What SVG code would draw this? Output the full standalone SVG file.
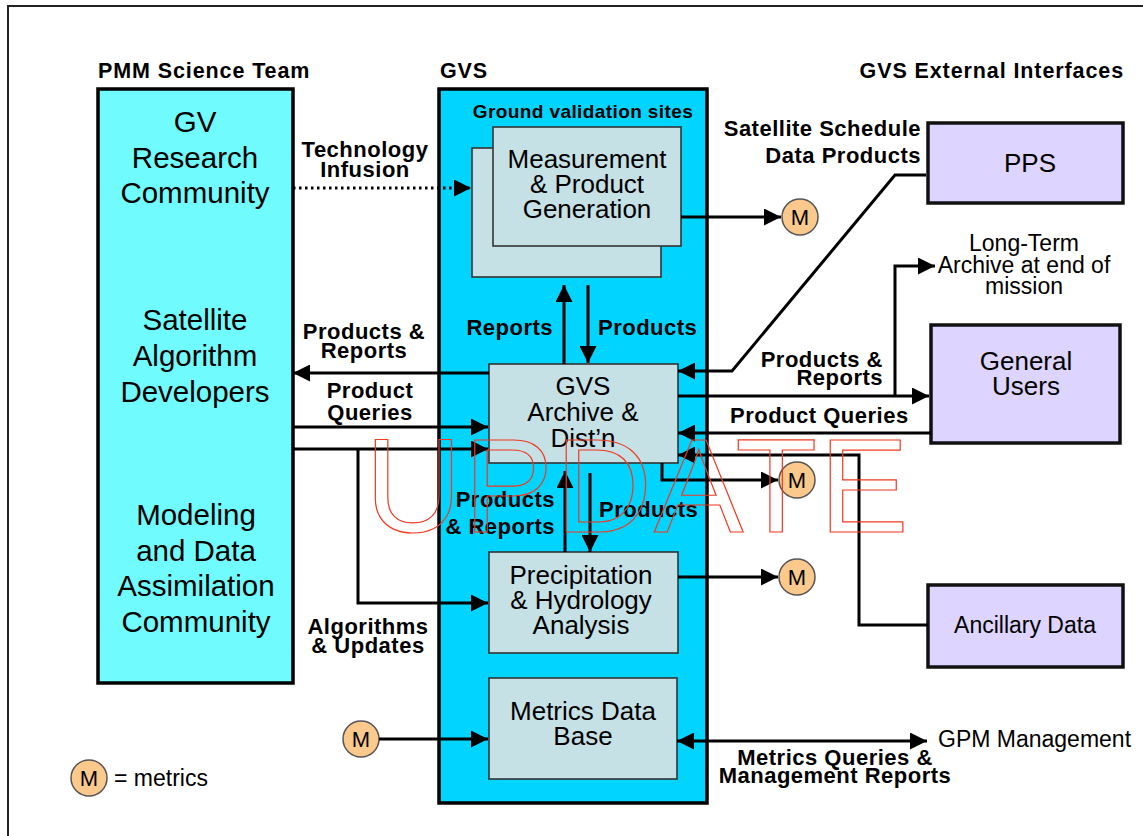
<svg xmlns="http://www.w3.org/2000/svg" width="1143" height="836" viewBox="0 0 1143 836">
<style>
.frame{fill:none;stroke:#222;stroke-width:2}
.big{fill:#70fbff;stroke:#000;stroke-width:3.5}
.gvs{fill:#00d4ff;stroke:#000;stroke-width:3.5}
.inner{fill:#c5e1e5;stroke:#333;stroke-width:1.6}
.ext{fill:#ddd5ff;stroke:#111;stroke-width:3.5}
.m{fill:#fcc98c;stroke:#555;stroke-width:1.5}
.c{fill:none;stroke:#000;stroke-width:3}
.dot{fill:none;stroke:#000;stroke-width:3;stroke-dasharray:2.5 3.5}
text{font-family:"Liberation Sans",Arial,sans-serif;fill:#000}
.h{font-weight:bold;font-size:21.5px;letter-spacing:0.9px}
.b{font-weight:bold;font-size:22px;letter-spacing:0.5px}
.L{font-size:26px;text-anchor:middle}
.XL{font-size:29.5px;text-anchor:middle}
.n{font-size:23px}
.mid{text-anchor:middle}
.end{text-anchor:end}
.mt{font-size:22px;text-anchor:middle}
.wm{font-size:134px;letter-spacing:2px;fill:none;stroke:#f03a22;stroke-width:1.2}
</style>
<defs>
<marker id="ah" viewBox="0 0 17 17" refX="17" refY="8.5" markerWidth="17" markerHeight="17" markerUnits="userSpaceOnUse" orient="auto-start-reverse">
<path d="M0,0 L17,8.5 L0,17 z" fill="#000"/>
</marker>
</defs>
<rect width="1143" height="836" fill="#fff"/>
<path class="frame" d="M8,836 V6 H1143"/>

<text class="h" x="98" y="78">PMM Science Team</text>
<text class="h" x="440" y="78">GVS</text>
<text class="h end" x="1124" y="78">GVS External Interfaces</text>

<g id="pmm">
<rect class="big" x="98" y="89" width="195" height="594"/>
<text class="XL" x="195" y="132">GV</text>
<text class="XL" x="195" y="168">Research</text>
<text class="XL" x="195" y="203">Community</text>
<text class="XL" x="195" y="330">Satellite</text>
<text class="XL" x="195" y="366">Algorithm</text>
<text class="XL" x="195" y="402">Developers</text>
<text class="XL" x="196" y="525">Modeling</text>
<text class="XL" x="196" y="561">and Data</text>
<text class="XL" x="196" y="596">Assimilation</text>
<text class="XL" x="196" y="632">Community</text>
</g>

<g id="gvs">
<rect class="gvs" x="439" y="89" width="268" height="714"/>
<text x="583" y="118" style="font-weight:bold;font-size:19px;letter-spacing:0.4px;text-anchor:middle">Ground validation sites</text>
</g>

<g id="measurement">
<rect class="inner" x="472" y="148" width="189" height="129"/>
<rect class="inner" x="493" y="127" width="188" height="119"/>
<text class="L" x="587" y="168">Measurement</text>
<text class="L" x="587" y="193">&amp; Product</text>
<text class="L" x="587" y="218">Generation</text>
</g>

<g id="archive">
<rect class="inner" x="489" y="364" width="189" height="99"/>
<text class="L" x="583" y="395">GVS</text>
<text class="L" x="583" y="421">Archive &amp;</text>
<text class="L" x="583" y="447">Dist’n</text>
</g>

<g id="precip">
<rect class="inner" x="489" y="552" width="189" height="101"/>
<text class="L" x="581" y="584">Precipitation</text>
<text class="L" x="581" y="609">&amp; Hydrology</text>
<text class="L" x="581" y="634">Analysis</text>
</g>

<g id="metrics">
<rect class="inner" x="489" y="678" width="188" height="101"/>
<text class="L" x="583" y="720">Metrics Data</text>
<text class="L" x="583" y="745">Base</text>
</g>

<g id="pps">
<rect class="ext" x="928" y="123" width="195" height="80"/>
<text class="L" x="1030" y="172">PPS</text>
</g>

<g id="users">
<rect class="ext" x="931" y="325" width="189" height="118"/>
<text class="L" x="1026" y="370">General</text>
<text class="L" x="1026" y="395">Users</text>
</g>

<g id="ancillary">
<rect class="ext" x="928" y="585" width="195" height="82"/>
<text class="n mid" x="1025" y="633">Ancillary Data</text>
</g>

<g id="longterm">
<text class="n mid" x="1024" y="251">Long-Term</text>
<text class="n mid" x="1024" y="273">Archive at end of</text>
<text class="n mid" x="1024" y="294">mission</text>
</g>

<g id="gpm">
<text class="n" x="938" y="747">GPM Management</text>
</g>

<g id="m1"><circle class="m" cx="800" cy="217" r="18"/><text class="mt" x="800" y="225">M</text></g>
<g id="m2"><circle class="m" cx="797" cy="480" r="18"/><text class="mt" x="797" y="488">M</text></g>
<g id="m3"><circle class="m" cx="797" cy="577" r="18"/><text class="mt" x="797" y="585">M</text></g>
<g id="m4"><circle class="m" cx="361" cy="739" r="18"/><text class="mt" x="361" y="747">M</text></g>
<g id="legend"><circle class="m" cx="89" cy="778" r="18"/><text class="mt" x="89" y="786">M</text>
<text class="n" x="114" y="786">= metrics</text></g>

<g id="connectors">
<path class="dot" d="M293,188 H471" marker-end="url(#ah)"/>
<path class="c" d="M681,217 H781" marker-end="url(#ah)"/>
<path class="c" d="M564,364 V285" marker-end="url(#ah)"/>
<path class="c" d="M588,285 V363" marker-end="url(#ah)"/>
<path class="c" d="M489,373 H293" marker-end="url(#ah)"/>
<path class="c" d="M293,427 H488" marker-end="url(#ah)"/>
<path class="c" d="M293,449 H488" marker-end="url(#ah)"/>
<path class="c" d="M358,449 V603 H488" marker-end="url(#ah)"/>
<path class="c" d="M565,552 V471" marker-end="url(#ah)"/>
<path class="c" d="M590,473 V552" marker-end="url(#ah)"/>
<path class="c" d="M926,175 H895 L732,371 H678" marker-end="url(#ah)"/>
<path class="c" d="M678,396 H929" marker-end="url(#ah)"/>
<path class="c" d="M895,396 V266 H935" marker-end="url(#ah)"/>
<path class="c" d="M931,433 H678" marker-end="url(#ah)"/>
<path class="c" d="M928,625 H859 V455 H678" marker-end="url(#ah)"/>
<path class="c" d="M662,463 V480 H778" marker-end="url(#ah)"/>
<path class="c" d="M678,577 H778" marker-end="url(#ah)"/>
<path class="c" d="M379,739 H488" marker-end="url(#ah)"/>
<path class="c" d="M677,741 H927" marker-start="url(#ah)" marker-end="url(#ah)"/>
</g>

<g id="labels">
<text class="b mid" x="365" y="157">Technology</text>
<text class="b mid" x="365" y="177">Infusion</text>
<text class="b mid" x="364" y="339">Products &amp;</text>
<text class="b mid" x="364" y="358">Reports</text>
<text class="b end" x="553" y="335">Reports</text>
<text class="b" x="598" y="335">Products</text>
<text class="b mid" x="370" y="398">Product</text>
<text class="b mid" x="370" y="420">Queries</text>
<text class="b end" x="555" y="507">Products</text>
<text class="b end" x="555" y="534">&amp; Reports</text>
<text class="b" x="599" y="517">Products</text>
<text class="b mid" x="368" y="634">Algorithms</text>
<text class="b mid" x="368" y="653">&amp; Updates</text>
<text class="b end" x="921" y="136">Satellite Schedule</text>
<text class="b end" x="921" y="163">Data Products</text>
<text class="b end" x="883" y="367">Products &amp;</text>
<text class="b end" x="883" y="385">Reports</text>
<text class="b" x="730" y="423">Product Queries</text>
<text class="b mid" x="835" y="765">Metrics Queries &amp;</text>
<text class="b mid" x="835" y="783">Management Reports</text>
</g>

<text class="wm" x="365" y="532">UPDATE</text>
</svg>
